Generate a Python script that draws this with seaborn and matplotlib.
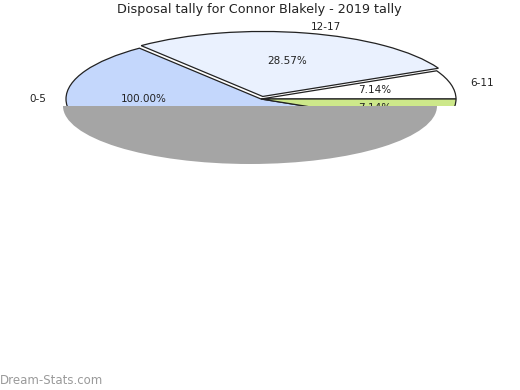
import matplotlib
matplotlib.use("Agg")
import matplotlib.pyplot as plt
import seaborn as sns
import numpy as np
from matplotlib.patches import Wedge
from matplotlib.transforms import Affine2D

sns.set_theme(style="white")
plt.rcParams['font.family'] = ['DejaVu Sans']

title = "Disposal tally for Connor Blakely - 2019 tally"
# main pie slices (counter-clockwise from 0 degrees)
slice_labels = ["6-11", "12-17", "", ""]
slice_values = [1, 4, 8, 1]
slice_colors = ["#ffffff", "#eaf1fe", "#c4d7fc", "#cde88a"]
slice_pcts = ["7.14%", "28.57%", "", "7.14%"]
slice_explode = [0.0, 0.04, 0.0, 0.0]
# overlaid single-category pie
single_label = ["0-5"]
single_value = [1]

fig = plt.figure(figsize=(5.2, 3.9), dpi=100)
cx, cy, rx, ry = 261, 99, 195, 65
px_left, px_right, px_top, px_bot = 30, 500, 15, 106
ax = fig.add_axes([px_left / 520, (390 - px_bot) / 390,
                   (px_right - px_left) / 520, (px_bot - px_top) / 390])

wedges, texts = ax.pie(slice_values, labels=slice_labels, colors=slice_colors,
                       explode=slice_explode, startangle=0, counterclock=True,
                       labeldistance=1.1,
                       wedgeprops=dict(edgecolor="#222222", linewidth=0.9),
                       textprops=dict(fontsize=7.5, color="#222222"))
tot = sum(slice_values)
ang = 0.0
for v, p in zip(slice_values, slice_pcts):
    mid = np.deg2rad(ang + 180 * v / tot)
    if p:
        ax.text(0.6 * np.cos(mid), 0.6 * np.sin(mid), p, ha="center", va="center",
                fontsize=7.5, color="#222222")
    ang += 360 * v / tot
for w in wedges:
    w.set_clip_on(True)
    w.set_clip_path(ax.patch)

w2, t2, a2 = ax.pie(single_value, labels=single_label, autopct="%.2f%%", startangle=0,
                    colors=["none"], wedgeprops=dict(linewidth=0),
                    textprops=dict(fontsize=7.5, color="#222222"))
for w in w2:
    w.set_visible(False)

ax.set_xlim((px_left - cx) / rx, (px_right - cx) / rx)
ax.set_ylim((cy - px_bot) / ry, (cy - px_top) / ry)
ax.set_aspect("auto")
ax.axis("off")

# overlay: grey lower half-disc, title and watermark
ov = fig.add_axes([0, 0, 1, 1], zorder=5)
ov.set_xlim(0, 520)
ov.set_ylim(390, 0)
ov.patch.set_alpha(0)
ov.axis("off")
ov.add_patch(Wedge((0, 0), 1, 0, 180, facecolor="#a5a5a5", edgecolor="none",
                   transform=Affine2D().scale(187, 58).translate(250, 106) + ov.transData))
ov.text(259, 10, title, ha="center", va="center", fontsize=9.2, color="#222222")
ov.text(0, 380, "Dream-Stats.com", ha="left", va="center", fontsize=8.5, color="#9a9a9a")

fig.savefig("out.png", dpi=100)
